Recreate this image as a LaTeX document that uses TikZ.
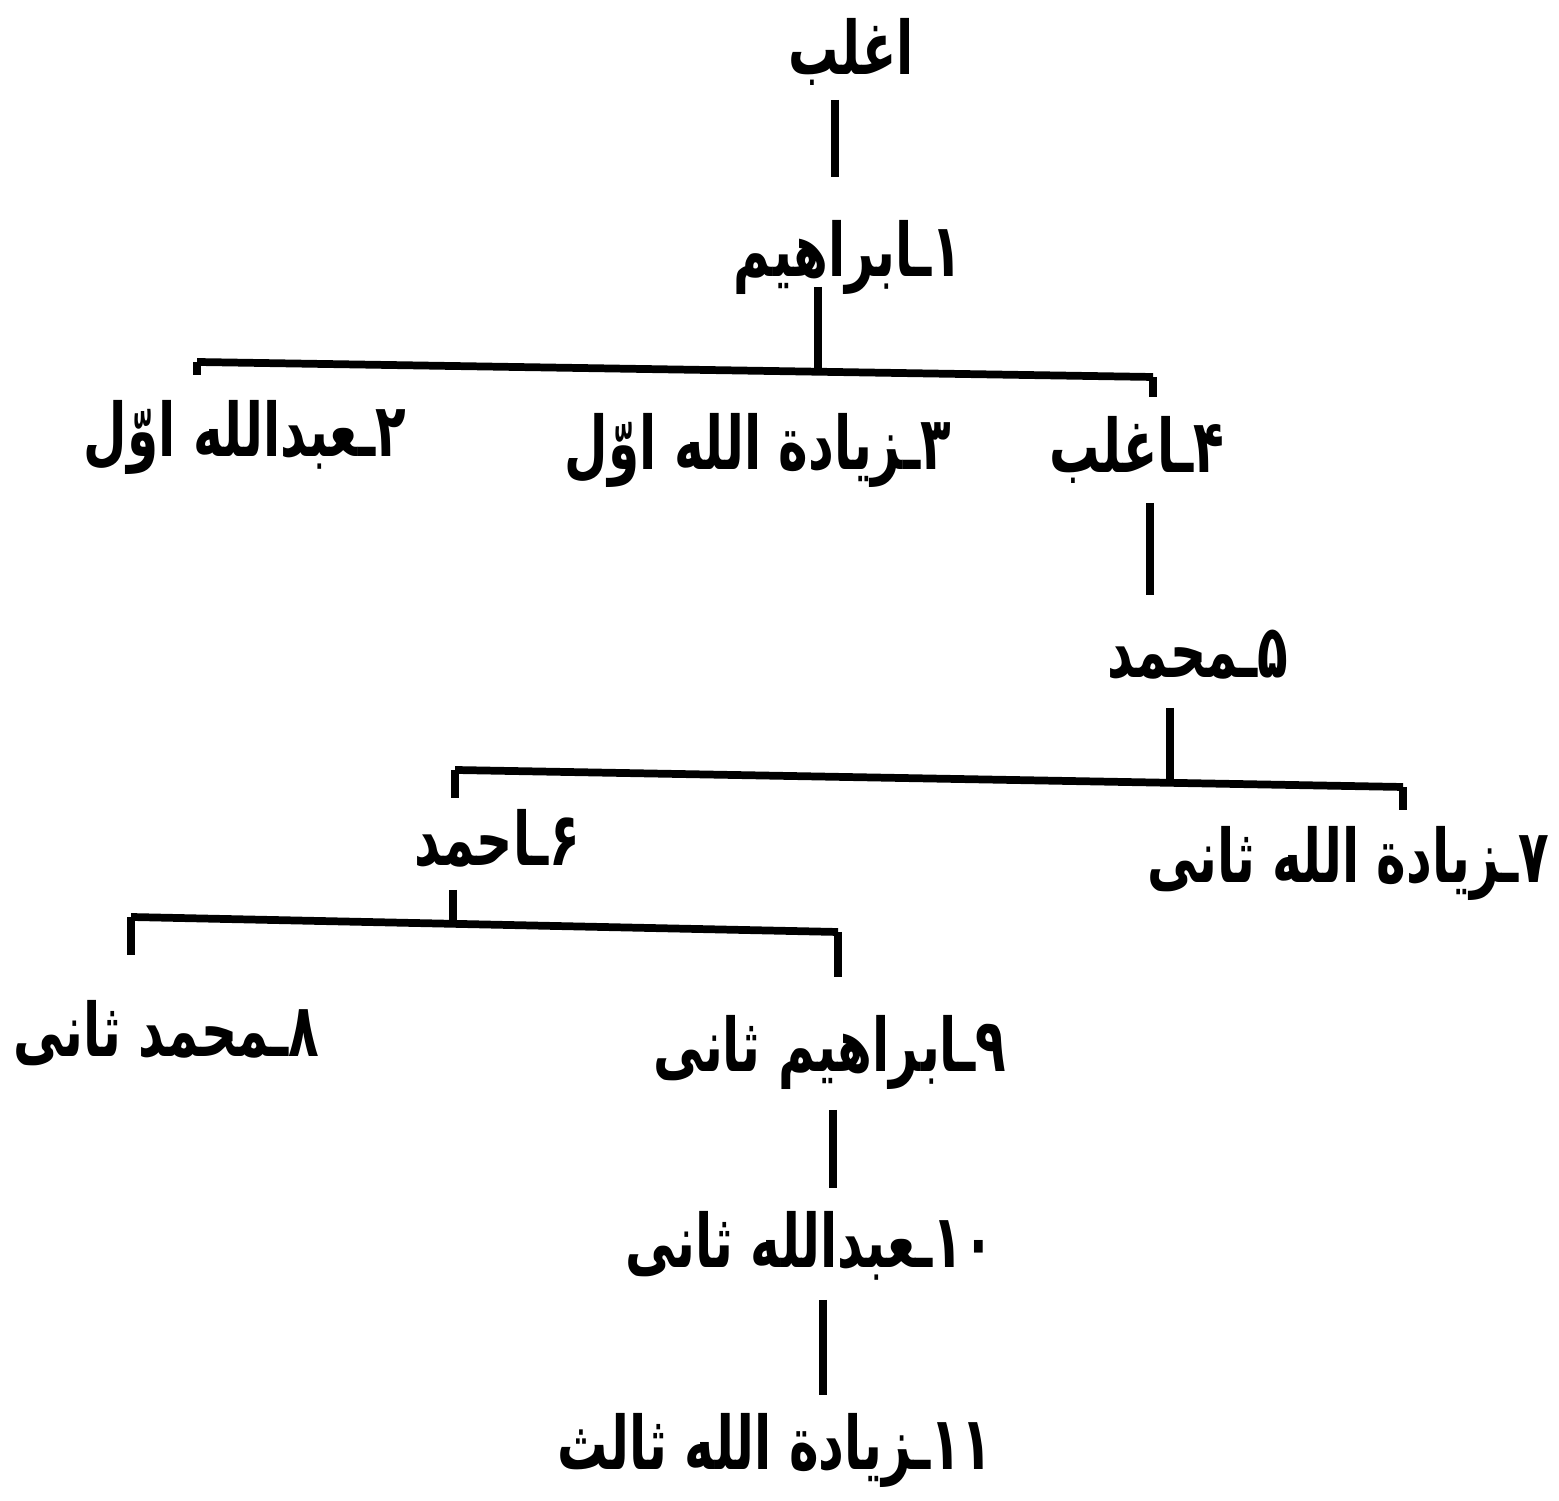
\documentclass[tikz,border=0pt]{standalone}
\usepackage{fontspec}
\usepackage{tikz}
\usetikzlibrary{positioning, calc}
\newfontfamily\urdufont[Script=Arabic, FakeStretch=0.68]{DejaVu Sans Bold}
\TeXXeTstate=1
\newcommand{\ur}[1]{\beginR #1\endR}

\begin{document}
\begin{tikzpicture}[
    x=0.01cm, y=-0.01cm,
    person/.style={inner sep=0pt, anchor=base, font=\urdufont\fontsize{21}{25}\selectfont},
    link/.style={line width=2.2pt},
  ]
    \useasboundingbox (0,0) rectangle (1559,1501);

    \node[person] (agh) at (851,75) {\ur{اغلب}};
    \node[person] (n1) at (848,277) {\ur{۱ـابراهیم}};
    \node[person] (n2) at (245,457) {\ur{۲ـعبدالله اوّل}};
    \node[person] (n3) at (758,470) {\ur{۳ـزیادة الله اوّل}};
    \node[person] (n4) at (1137,473) {\ur{۴ـاغلب}};
    \node[person] (n5) at (1198,678) {\ur{۵ـمحمد}};
    \node[person] (n6) at (497,866) {\ur{۶ـاحمد}};
    \node[person, anchor=base east] (n7) at (1550,883) {\ur{۷ـزیادة الله ثانی}};
    \node[person, anchor=base west] (n8) at (13,1057) {\ur{۸ـمحمد ثانی}};
    \node[person] (n9) at (830,1072) {\ur{۹ـابراهیم ثانی}};
    \node[person] (n10) at (810,1268) {\ur{\beginL ۱۰\endL{}ـعبدالله ثانی}};
    \node[person] (n11) at (775,1470) {\ur{\beginL ۱۱\endL{}ـزیادة الله ثالث}};

    \coordinate (b1l) at (197,362);
    \coordinate (b1r) at (1153,377);
    \coordinate (b2l) at (455,770);
    \coordinate (b2r) at (1403,787);
    \coordinate (b3l) at (131,917);
    \coordinate (b3r) at (838,932);

    \draw[link] (agh.base) ++(-16,25) -- ++(0,77);
    \draw[link] (n1.base) ++(-30,10) -- ++(0,85);
    \draw[link] (b1l) -- (b1r);
    \draw[link] (b1l) -- ++(0,13);
    \draw[link] (b1r) -- ++(0,20);
    \draw[link] (n4.base) ++(13,30) -- ++(0,92);
    \draw[link] (n5.base) ++(-28,30) -- ++(0,75);
    \draw[link] (b2l) -- (b2r);
    \draw[link] (b2l) -- ++(0,28);
    \draw[link] (b2r) -- ++(0,23);
    \draw[link] (n6.base) ++(-44,24) -- ++(0,34);
    \draw[link] (b3l) -- (b3r);
    \draw[link] (b3l) -- ++(0,38);
    \draw[link] (b3r) -- ++(0,45);
    \draw[link] (n9.base) ++(3,38) -- ++(0,78);
    \draw[link] (n10.base) ++(13,32) -- ++(0,95);
  \end{tikzpicture}
\end{document}
